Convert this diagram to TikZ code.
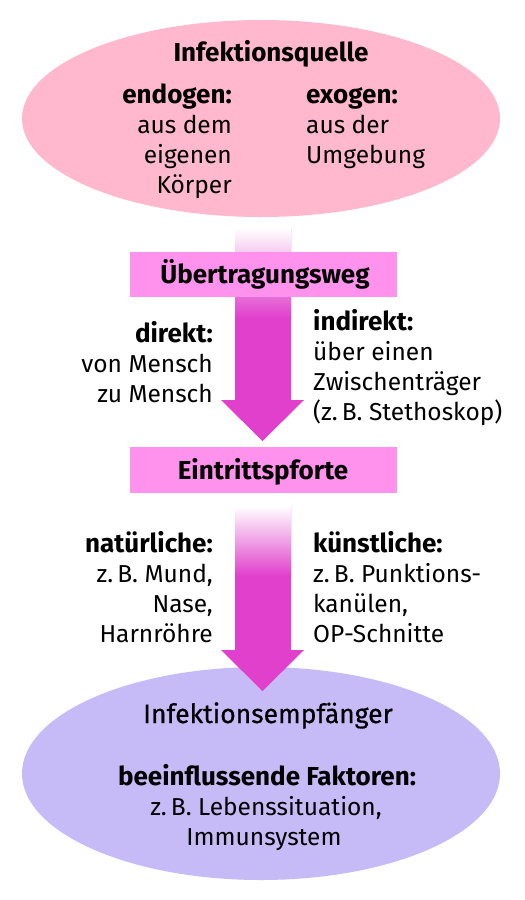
\documentclass[tikz,border=0pt]{standalone}
\usepackage{fontspec}
\setmainfont{Fira Sans}
\newfontface\medfont{Fira Sans}[FakeBold=0.6]
\usetikzlibrary{shapes.geometric}
\definecolor{srcpink}{RGB}{255,184,206}
\definecolor{boxpink}{RGB}{255,146,236}
\definecolor{arrmag}{RGB}{224,64,204}
\definecolor{lav}{RGB}{198,186,247}
\begin{document}
\begin{tikzpicture}[x=1pt,y=-1pt,
  txt/.style={inner sep=0pt, font=\fontsize{24.5}{30}\selectfont},
  bftxt/.style={inner sep=0pt, font=\fontsize{26}{30}\selectfont\bfseries},
  medtxt/.style={inner sep=0pt, font=\fontsize{26.5}{30}\medfont},
  oval/.style={ellipse, inner sep=0pt, minimum width=478pt},
  labelbox/.style={rectangle, fill=boxpink, inner sep=0pt, minimum width=267pt, minimum height=45pt},
  blockarrow/.style={fill=arrmag},
  fadeshaft/.style={top color=white, bottom color=arrmag}]
\useasboundingbox (0,0) rectangle (525,900);
\fill[white] (0,0) rectangle (525,900);
% ellipses
\node[oval, fill=srcpink, minimum height=197pt] (src) at (261,118.5) {};
\node[oval, fill=lav, minimum height=213pt] (dst) at (261,773.5) {};
% arrow 1
\fill[blockarrow] (235,228) -- (235,400) -- (221,400) -- (262.5,441) -- (304,400) -- (291,400) -- (291,228) -- cycle;
\shade[fadeshaft] (235,228) rectangle (291,318);
% arrow 2
\fill[blockarrow] (235,506) -- (235,650) -- (221,650) -- (262.5,691) -- (304,650) -- (291,650) -- (291,506) -- cycle;
\shade[fadeshaft] (235,506) rectangle (291,576);
% boxes
\node[labelbox] (tw) at (263.5,274.5) {};
\node[labelbox, minimum height=46pt] (ep) at (263,470) {};
% texts: source
\node[bftxt, anchor=base] (t1) at (271,61) {Infektionsquelle};
\node[bftxt, anchor=base east] (t2) at (232,103) {endogen:};
\node[txt, anchor=base east] (t3) at (232,133) {aus dem};
\node[txt, anchor=base east] (t4) at (232,163) {eigenen};
\node[txt, anchor=base east] (t5) at (232,193) {Körper};
\node[bftxt, anchor=base west] (t6) at (306,103) {exogen:};
\node[txt, anchor=base west] (t7) at (306,133) {aus der};
\node[txt, anchor=base west] (t8) at (306,163) {Umgebung};
% Uebertragungsweg
\node[bftxt, anchor=base] (t9) at (265,283) {Übertragungsweg};
\node[bftxt, anchor=base east] (t10) at (213,342) {direkt:};
\node[txt, anchor=base east] (t11) at (213,372) {von Mensch};
\node[txt, anchor=base east] (t12) at (213,402) {zu Mensch};
\node[bftxt, anchor=base west] (t13) at (313,330) {indirekt:};
\node[txt, anchor=base west] (t14) at (313,360) {über einen};
\node[txt, anchor=base west] (t15) at (313,390) {Zwischenträger};
\node[txt, anchor=base west] (t16) at (313,420) {(z.\,B. Stethoskop)};
% Eintrittspforte
\node[bftxt, anchor=base] (t17) at (263,479) {Eintrittspforte};
\node[bftxt, anchor=base east] (t18) at (213,552) {natürliche:};
\node[txt, anchor=base east] (t19) at (213,582) {z.\,B. Mund,};
\node[txt, anchor=base east] (t20) at (213,612) {Nase,};
\node[txt, anchor=base east] (t21) at (213,642) {Harnröhre};
\node[bftxt, anchor=base west] (t22) at (313,552) {künstliche:};
\node[txt, anchor=base west] (t23) at (313,582) {z.\,B. Punktions-};
\node[txt, anchor=base west] (t24) at (313,612) {kanülen,};
\node[txt, anchor=base west] (t25) at (313,642) {OP-Schnitte};
% Empfaenger
\node[medtxt, anchor=base] (t26) at (268,723) {Infektionsempfänger};
\node[bftxt, anchor=base] (t27) at (267,785) {beeinflussende Faktoren:};
\node[txt, anchor=base] (t28) at (266,815) {z.\,B. Lebenssituation,};
\node[txt, anchor=base] (t29) at (264,845) {Immunsystem};
\end{tikzpicture}
\end{document}
